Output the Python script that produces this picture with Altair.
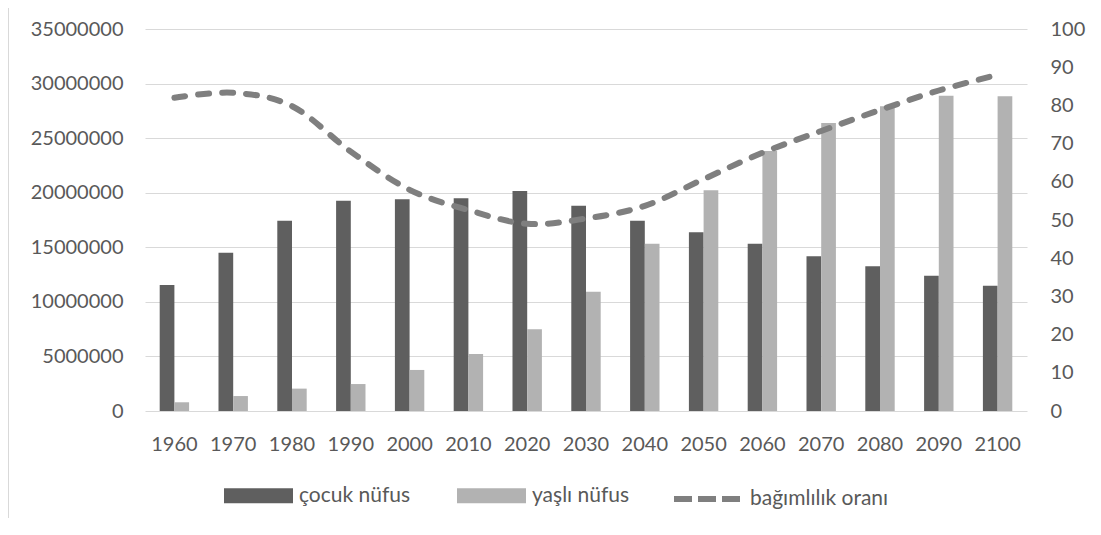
import altair as alt
import pandas as pd

years = ["1960", "1970", "1980", "1990", "2000", "2010", "2020", "2030",
         "2040", "2050", "2060", "2070", "2080", "2090", "2100"]
cocuk = [11550000, 14500000, 17440000, 19270000, 19400000, 19500000, 20160000,
         18800000, 17440000, 16370000, 15330000, 14170000, 13260000, 12400000, 11480000]
yasli = [800000, 1370000, 2050000, 2470000, 3760000, 5220000, 7480000,
         10930000, 15330000, 20220000, 23820000, 26390000, 27920000, 28890000, 28830000]
oran = [82.0, 83.3, 79.8, 67.9, 57.9, 52.6, 49.0, 50.4, 53.7, 60.7, 67.6, 73.3, 78.8, 83.9, 88.0]

series_names = ["çocuk nüfus", "yaşlı nüfus"]
line_name = "bağımlılık oranı"
left_ticks = [0, 5000000, 10000000, 15000000, 20000000, 25000000, 30000000, 35000000]
right_ticks = [0, 10, 20, 30, 40, 50, 60, 70, 80, 90, 100]

bar_df = pd.DataFrame({
    "year": years + years,
    "series": [series_names[0]] * len(years) + [series_names[1]] * len(years),
    "value": cocuk + yasli,
})
line_df = pd.DataFrame({"year": years, "oran": oran, "name": [line_name] * len(years)})
frame_df = pd.DataFrame({"k": [0]})

x_enc = alt.X(
    "year:N", sort=years,
    scale=alt.Scale(paddingInner=0.5, paddingOuter=0.25),
    axis=alt.Axis(title=None, labelAngle=0, ticks=False, domain=False, grid=False, labelPadding=23),
)

bars = alt.Chart(bar_df).mark_bar().encode(
    x=x_enc,
    xOffset=alt.XOffset("series:N", sort=series_names),
    y=alt.Y(
        "value:Q",
        scale=alt.Scale(domain=[0, 35000000], nice=False),
        axis=alt.Axis(title=None, values=left_ticks, format="d", ticks=False, domain=False,
                      gridColor="#d9d9d9", gridWidth=1, labelPadding=22),
    ),
    fill=alt.Fill(
        "series:N", sort=series_names,
        scale=alt.Scale(domain=series_names, range=["#5f5f5f", "#b2b2b2"]),
        legend=alt.Legend(orient="none", legendX=79, legendY=432, direction="horizontal", title=None,
                          symbolType="M-1,-0.217H1V0.217H-1Z", symbolSize=4761, symbolStrokeWidth=0,
                          symbolOpacity=1, labelOffset=6, columnPadding=46),
    ),
)

line = alt.Chart(line_df).mark_line(
    interpolate="cardinal", strokeWidth=6, strokeDash=[11, 13], strokeCap="round"
).encode(
    x=x_enc,
    y=alt.Y(
        "oran:Q",
        scale=alt.Scale(domain=[0, 100], nice=False),
        axis=alt.Axis(orient="right", title=None, values=right_ticks, ticks=False, domain=False,
                      grid=False, labelPadding=23),
    ),
    stroke=alt.Stroke(
        "name:N",
        scale=alt.Scale(domain=[line_name], range=["#7f7f7f"]),
        legend=alt.Legend(orient="none", legendX=526, legendY=434, direction="horizontal", title=None,
                          symbolType="stroke", symbolSize=4356, symbolStrokeWidth=6,
                          symbolDash=[18, 6], labelOffset=7),
    ),
)

frame = alt.Chart(frame_df).mark_rule(color="#d9d9d9", strokeWidth=1).encode(
    x=alt.value(-136.5), y=alt.value(-21), y2=alt.value(489)
)

chart = (
    alt.layer(bars, line, frame)
    .resolve_scale(y="independent")
    .properties(
        width=882, height=382,
        autosize=alt.AutoSizeParams(type="none"),
        padding={"left": 137, "top": 21, "right": 66, "bottom": 107},
    )
    .configure_view(stroke=None)
    .configure_axis(labelFont="Lato", labelFontSize=20, labelColor="#595959")
    .configure_legend(labelFont="Lato", labelFontSize=21, labelColor="#595959")
)

chart.save("out.html", embed_options={"renderer": "svg", "actions": False})
